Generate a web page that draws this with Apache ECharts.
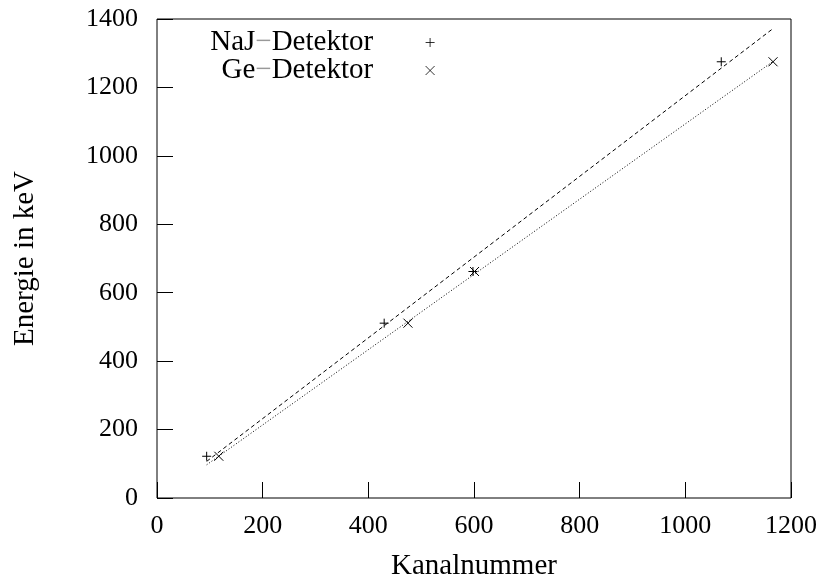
<!DOCTYPE html>
<html>
<head>
<meta charset="utf-8">
<script src="https://cdn.jsdelivr.net/npm/echarts@6/dist/echarts.min.js"></script>
<style>html,body{margin:0;padding:0;background:#fff}#c{width:825px;height:586px}</style>
</head>
<body>
<div id="c"></div>
<script>
// ---- data ----
const xTicks = [0, 200, 400, 600, 800, 1000, 1200];
const yTicks = [0, 200, 400, 600, 800, 1000, 1200, 1400];
const naChannel = [94, 430, 598, 1068];
const naEnergy  = [122, 511, 662, 1275];
const geChannel = [117, 475, 601, 1166];
const geEnergy  = [122, 511, 662, 1275];
// fitted straight lines (end points)
const naFitChannel = [94, 1166];
const naFitEnergy  = [107, 1372];
const geFitChannel = [94, 1166];
const geFitEnergy  = [97, 1276];
const naName = 'NaJ−Detektor';
const geName = 'Ge−Detektor';

const pairs = (xs, ys) => xs.map((x, i) => [x, ys[i]]);
const FONT = 'Liberation Serif';
const plusPath = 'path://M0,5L10,5M5,0L5,10';
const crossPath = 'path://M0,0L10,10M10,0L0,10';
const TICK = 8;

const chart = echarts.init(document.getElementById('c'), null, {renderer: 'canvas'});
// ticks drawn outward from an axis shifted TICK px into the plot -> they look like inner ticks
const mkTick = () => ({show: true, inside: false, length: TICK, lineStyle: {color: '#000', width: 1}});
const legendFmt = n => {
  const parts = n.split('−');
  return '{a|' + parts[0] + '}{d|−}{a|' + parts[1] + '}';
};
const legendText = {
  fontFamily: FONT, fontSize: 29,
  rich: {
    a: {fontFamily: FONT, fontSize: 29, color: '#000'},
    d: {fontFamily: FONT, fontSize: 29, color: '#999'}
  }
};
const legendItem = {color: 'rgba(0,0,0,0)', borderColor: '#000', borderWidth: 0.8};
chart.setOption({
  animation: false,
  backgroundColor: '#fff',
  textStyle: {fontFamily: FONT},
  grid: {left: 157, right: 34, top: 19, bottom: 87, show: true,
         borderColor: '#000', borderWidth: 1, backgroundColor: 'rgba(0,0,0,0)'},
  legend: [
    {data: [naName], right: 385, top: 23, align: 'right', itemWidth: 104, itemHeight: 9,
     itemStyle: legendItem,
     formatter: legendFmt, textStyle: legendText, selectedMode: false},
    {data: [geName], right: 385, top: 51, align: 'right', itemWidth: 104, itemHeight: 9,
     itemStyle: legendItem,
     formatter: legendFmt, textStyle: legendText, selectedMode: false}
  ],
  xAxis: [
    {
      type: 'value', min: 0, max: 1200, interval: 200, position: 'bottom', offset: -TICK,
      axisLine: {show: false}, axisTick: mkTick(), splitLine: {show: false},
      name: 'Kanalnummer', nameLocation: 'middle', nameGap: 54 + TICK,
      nameTextStyle: {fontFamily: FONT, fontSize: 29, color: '#000'},
      axisLabel: {fontFamily: FONT, fontSize: 26, color: '#000', margin: 15 + TICK,
        formatter: v => xTicks.includes(v) ? String(v) : ''}
    },
    {
      type: 'value', min: 0, max: 1200, interval: 200, position: 'top', offset: -TICK,
      axisLine: {show: false}, axisTick: mkTick(), splitLine: {show: false},
      axisLabel: {show: false}
    }
  ],
  yAxis: [
    {
      type: 'value', min: 0, max: 1400, interval: 200, position: 'left', offset: -TICK,
      axisLine: {show: false}, axisTick: mkTick(), splitLine: {show: false},
      name: 'Energie in keV', nameLocation: 'middle', nameGap: 117 + TICK,
      nameTextStyle: {fontFamily: FONT, fontSize: 29, color: '#000'},
      axisLabel: {fontFamily: FONT, fontSize: 26, color: '#000', margin: 19 + TICK,
        formatter: v => yTicks.includes(v) ? String(v) : ''}
    },
    {
      type: 'value', min: 0, max: 1400, interval: 200, position: 'right', offset: -TICK,
      axisLine: {show: false}, axisTick: mkTick(), splitLine: {show: false},
      axisLabel: {show: false}
    }
  ],
  series: [
    {name: naName, type: 'scatter', data: pairs(naChannel, naEnergy),
     symbol: plusPath, symbolSize: 9,
     itemStyle: {color: 'rgba(0,0,0,0)', borderColor: '#000', borderWidth: 1, opacity: 1}},
    {name: geName, type: 'scatter', data: pairs(geChannel, geEnergy),
     symbol: crossPath, symbolSize: 9,
     itemStyle: {color: 'rgba(0,0,0,0)', borderColor: '#000', borderWidth: 1, opacity: 1}},
    {name: 'naFit', type: 'line', data: pairs(naFitChannel, naFitEnergy), showSymbol: false,
     symbol: 'none', lineStyle: {color: '#000', width: 1, type: [4, 3]}, silent: true},
    {name: 'geFit', type: 'line', data: pairs(geFitChannel, geFitEnergy), showSymbol: false,
     symbol: 'none', lineStyle: {color: '#000', width: 1, type: [1, 2]}, silent: true}
  ]
});
</script>
</body>
</html>
